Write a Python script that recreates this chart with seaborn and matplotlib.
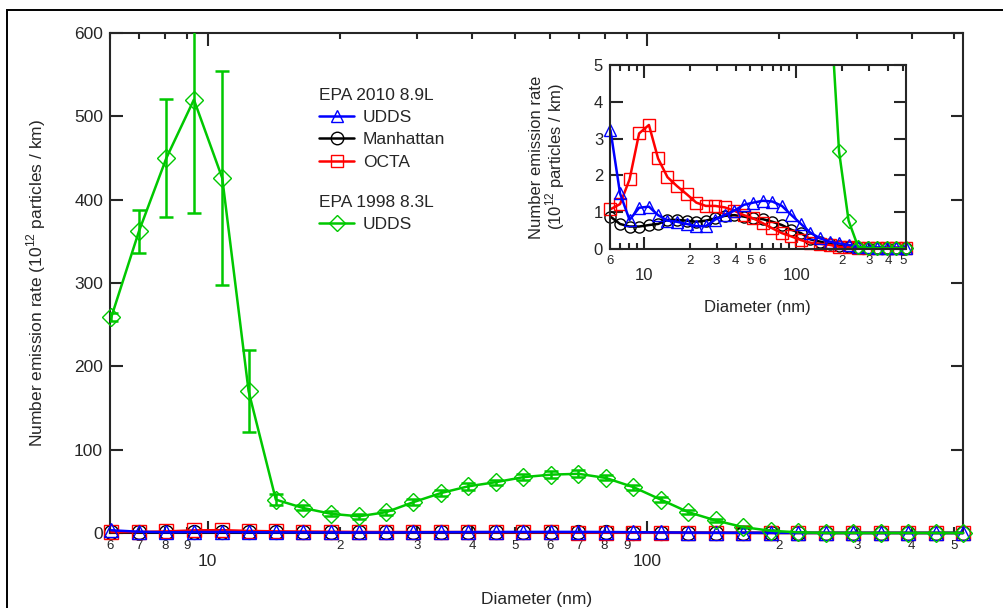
"""
Size-resolved number emission rates, EPA 2010 8.9L vs EPA 1998 8.3L engines.
Main panel on a 0-600 scale, inset zoomed to 0-5 (10^12 particles / km).
"""

import matplotlib
matplotlib.use("Agg")
import matplotlib.pyplot as plt
import seaborn as sns
from matplotlib.lines import Line2D
from matplotlib.patches import Rectangle
from matplotlib.transforms import Bbox, TransformedBbox
from matplotlib.ticker import FixedLocator, FixedFormatter, NullLocator

# ---- Data ----------------------------------------------------------------

diameter = [6.04, 6.98, 8.06, 9.31, 10.8, 12.4, 14.3, 16.5, 19.1, 22.1, 25.5,
            29.4, 34.0, 39.2, 45.3, 52.3, 60.4, 69.8, 80.6, 93.1, 107.5, 124.1,
            143.3, 165.5, 191.1, 220.7, 254.8, 294.3, 339.8, 392.4, 453.1, 523.3]

udds_2010 = [3.23, 1.51, 0.79, 1.12, 1.15, 0.92, 0.77, 0.74, 0.68, 0.62, 0.62,
             0.80, 0.92, 1.04, 1.20, 1.26, 1.31, 1.29, 1.17, 0.92, 0.68, 0.44,
             0.29, 0.20, 0.15, 0.11, 0.06, 0.05, 0.04, 0.03, 0.03, 0.03]

manhattan_2010 = [0.88, 0.68, 0.61, 0.61, 0.65, 0.68, 0.79, 0.79, 0.77, 0.74, 0.77,
                  0.83, 0.90, 0.92, 0.88, 0.83, 0.81, 0.74, 0.65, 0.52, 0.43, 0.26,
                  0.20, 0.14, 0.09, 0.06, 0.04, 0.03, 0.02, 0.02, 0.02, 0.02]

octa_2010 = [1.08, 1.22, 1.89, 3.14, 3.37, 2.46, 1.95, 1.71, 1.49, 1.26, 1.17,
             1.17, 1.13, 1.04, 0.92, 0.83, 0.70, 0.56, 0.43, 0.34, 0.24, 0.17,
             0.14, 0.11, 0.06, 0.05, 0.04, 0.04, 0.04, 0.04, 0.04, 0.04]

udds_1998 = [259, 362, 450, 520, 426, 170, 40, 30, 23, 20, 25,
             37, 48, 56, 61, 67, 70, 71, 66, 55, 40, 25,
             15, 7.0, 2.65, 0.77, 0.06, 0.03, 0.02, 0.02, 0.02, 0.02]

udds_1998_err = [5, 26, 71, 136, 129, 49, 7, 3, 3, 3, 3,
                 4, 4, 4, 3, 4, 4, 4, 3, 3, 3, 2,
                 2, 1, 0.5, 0.2, 0.02, 0.01, 0.01, 0.01, 0.01, 0.01]

# tick labels: decades get big labels, the in-between values small ones
major_ticks = [10, 100]
minor_ticks = [6, 7, 8, 9, 20, 30, 40, 50, 60, 70, 80, 90, 200, 300, 400, 500]
main_minor_labels = ["6", "7", "8", "9", "2", "3", "4", "5", "6", "7", "8", "9",
                     "2", "3", "4", "5"]
inset_minor_labels = ["6", "", "", "", "2", "3", "4", "5", "6", "", "", "",
                      "2", "3", "4", "5"]

BLUE, BLACK, RED, GREEN = "#0000ff", "#000000", "#ff0000", "#00c800"

series = [
    (manhattan_2010, BLACK, "o"),
    (octa_2010, RED, "s"),
    (udds_2010, BLUE, "^"),
    (udds_1998, GREEN, "D"),
]

# ---- Style ----------------------------------------------------------------

sns.set_style("ticks")
plt.rcParams["font.family"] = ["Liberation Sans", "DejaVu Sans"]
plt.rcParams["mathtext.fontset"] = "custom"
plt.rcParams["mathtext.rm"] = "Liberation Sans"
plt.rcParams["axes.linewidth"] = 1.5

fig = plt.figure(figsize=(10.04, 6.08), dpi=100)
ax = fig.add_axes([0.1096, 0.1234, 0.8496, 0.8223])
ins = fig.add_axes([0.6076, 0.5905, 0.2945, 0.3026])

# frame around the whole figure (runs off the right and bottom edges)
fig.add_artist(Rectangle((0.007, -0.1), 1.2, 1.0836, transform=fig.transFigure,
                         fill=False, edgecolor="black", linewidth=1.4))


def style_axis(a, minor_labels, major_size, minor_size, major_pad, minor_pad):
    a.set_xscale("log")
    a.set_xlim(6.0, diameter[-1])
    a.xaxis.set_major_locator(FixedLocator(major_ticks))
    a.xaxis.set_major_formatter(FixedFormatter(["10", "100"]))
    a.xaxis.set_minor_locator(FixedLocator(minor_ticks))
    a.xaxis.set_minor_formatter(FixedFormatter(minor_labels))
    a.yaxis.set_minor_locator(NullLocator())
    a.tick_params(which="both", direction="in", top=True, right=True, width=1.5)
    a.tick_params(which="major", length=9)
    a.tick_params(which="minor", length=4.5)
    a.tick_params(axis="x", which="major", labelsize=major_size, pad=major_pad)
    a.tick_params(axis="x", which="minor", labelsize=minor_size, pad=minor_pad)
    a.tick_params(axis="y", labelsize=major_size, pad=5)
    for s in a.spines.values():
        s.set_linewidth(1.5)


# ---- Main panel -----------------------------------------------------------

ax.errorbar(diameter, udds_1998, yerr=udds_1998_err, fmt="none", ecolor=GREEN,
            elinewidth=1.8, capsize=5, capthick=1.8, zorder=3)
for vals, col, mk in series:
    sns.lineplot(x=diameter, y=vals, color=col, marker=mk, markersize=10 if mk != "D" else 9,
                 markerfacecolor="none", markeredgecolor=col, markeredgewidth=1.0,
                 linewidth=1.8, ax=ax, zorder=4, clip_on=False)

ax.set_ylim(0, 600)
ax.set_yticks([0, 100, 200, 300, 400, 500, 600])
style_axis(ax, main_minor_labels, 12.5, 9.5, 15, 5)
ax.set_xlabel("Diameter (nm)", fontsize=12.5, labelpad=17)
ax.set_ylabel("Number emission rate (10$^{\\mathregular{12}}$ particles / km)",
              fontsize=12.5, labelpad=19)

# ---- Legend: two titled groups --------------------------------------------

h2010 = [Line2D([], [], color=c, marker=m, markerfacecolor="none", markersize=9,
                linewidth=1.8) for c, m in [(BLUE, "^"), (BLACK, "o"), (RED, "s")]]
h1998 = [Line2D([], [], color=GREEN, marker="D", markerfacecolor="none",
                markersize=8, linewidth=1.8)]
leg_kw = dict(frameon=False, fontsize=12.5, title_fontsize=12.5, loc="upper left",
              bbox_transform=fig.transFigure, borderpad=0, borderaxespad=0,
              handlelength=2.0, handletextpad=0.5, labelspacing=0.42,
              alignment="left")
leg1 = ax.legend(h2010, ["UDDS", "Manhattan", "OCTA"], title="EPA 2010 8.9L",
                 bbox_to_anchor=(0.318, 0.856), **leg_kw)
ax.add_artist(leg1)
ax.legend(h1998, ["UDDS"], title="EPA 1998 8.3L",
          bbox_to_anchor=(0.318, 0.68), **leg_kw)

# ---- Inset: zoom on the 2010 engine ---------------------------------------

# let the edge markers show fully while still cutting the green curve at 5
inset_clip = TransformedBbox(Bbox([[-0.04, -0.06], [1.04, 1.0]]), ins.transAxes)
for vals, col, mk in series:
    sns.lineplot(x=diameter, y=vals, color=col, marker=mk, markersize=8 if mk != "D" else 7,
                 markerfacecolor="none", markeredgecolor=col, markeredgewidth=1.0,
                 linewidth=1.8, ax=ins)
for line in ins.get_lines():
    line.set_clip_box(inset_clip)

ins.set_ylim(0, 5)
ins.set_yticks([0, 1, 2, 3, 4, 5])
style_axis(ins, inset_minor_labels, 12, 9.5, 14, 4)
ins.set_xlabel("Diameter (nm)", fontsize=12, labelpad=12)
ins.set_ylabel("Number emission rate\n(10$^{\\mathregular{12}}$ particles / km)",
               fontsize=12, labelpad=19, linespacing=1.0)

fig.savefig("out.png", dpi=100)
